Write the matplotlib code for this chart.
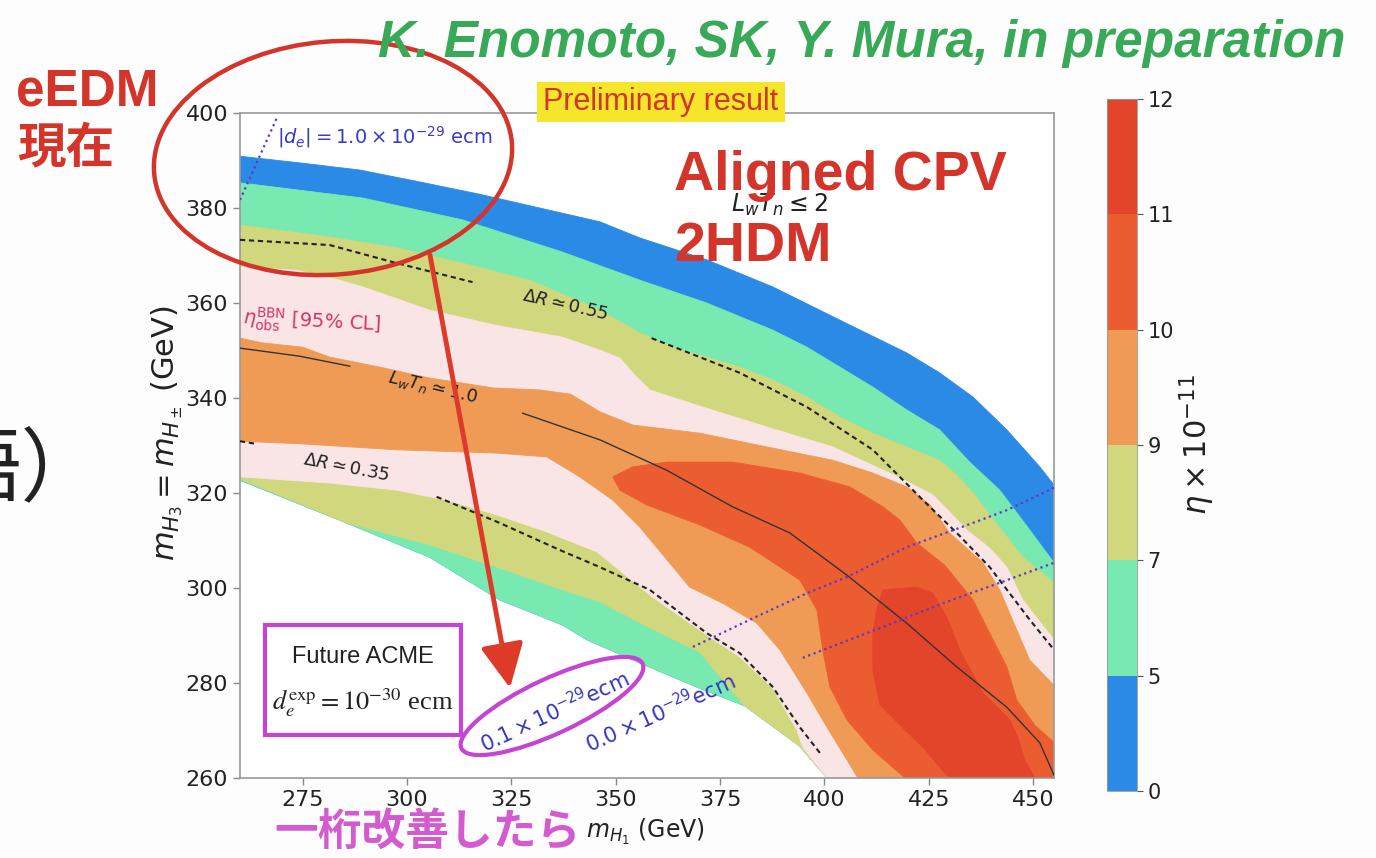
import matplotlib
matplotlib.use('Agg')
import matplotlib.pyplot as plt
from matplotlib import font_manager
from matplotlib.colors import ListedColormap, BoundaryNorm
from matplotlib.cm import ScalarMappable
from matplotlib.patches import Ellipse, Rectangle, FancyArrowPatch

# eta x 10^-11 colour levels
levels = [0, 5, 7, 9, 10, 11, 12]
level_colors = ['#2b8ae6', '#79e9b2', '#d0d77c', '#ef9b55', '#eb5d30', '#e3452a']
bbn_color = '#f9e4e6'

xticks = [275, 300, 325, 350, 375, 400, 425, 450]
yticks = [260, 280, 300, 320, 340, 360, 380, 400]

# contour boundaries (m_H1, m_H3 in GeV)
eta0_top_x = [260, 274.3, 288.7, 303, 317.4, 331.8, 346.2, 355.8, 371.8, 387.6, 403.7, 419.7, 427.6, 435.6, 443.7, 451.6, 455]
eta0_top_y = [390.9, 389.5, 388, 385.5, 382.9, 380, 377.1, 373.7, 369.1, 363.4, 356.4, 349.5, 345.3, 340.2, 333.3, 325.5, 321.7]

floor_x = [260, 285.5, 305.4, 322.2, 337.3, 343.1, 355.8, 370.1, 380.9, 394.1, 400.6]
floor_y = [322.7, 313.7, 306.5, 297.5, 292.2, 289.1, 284.2, 278.9, 275.2, 266.7, 260]

eta5_top_x = [260, 289.4, 313.3, 337.3, 355.8, 371.8, 387.6, 395.8, 403.7, 411.6, 419.7, 427.6, 434.8, 442, 449.2, 455]
eta5_top_y = [385.3, 382.1, 377.5, 370.7, 364.8, 360, 354.3, 350.7, 346.5, 342.3, 337.5, 333.3, 326.5, 320.6, 312.2, 305.3]

eta7_top_x = [260, 281.5, 297.5, 313.3, 329.4, 346.2, 355.8, 363.7, 371.8, 379.7, 387.6, 395.8, 403.7, 411.6, 419.7, 427.6, 431.7, 436, 439.6, 447.5, 455]
eta7_top_y = [376.4, 373.9, 371.6, 368.4, 364.8, 358.5, 353.7, 350.7, 348.6, 346.5, 343.8, 340.2, 336, 332.6, 329.7, 326.9, 323.8, 319.6, 315.4, 306.5, 301.1]
eta7_bot_x = [260, 285.5, 305.4, 321.5, 337.3, 346.2, 358.2, 370.1, 380.9, 394.1, 400.6]
eta7_bot_y = [323, 313.7, 309.1, 304.4, 299.6, 297.1, 291.6, 286.5, 275.2, 266.7, 260]

bbn_top_x = [260, 273.6, 283.9, 289.4, 305.4, 320.8, 337.3, 346.2, 351, 354.6, 358.2, 370.1, 386.2, 402, 418.1, 426, 430, 434.1, 439.6, 443.7, 447.5, 455]
bbn_top_y = [367.6, 366.9, 364.8, 363.4, 358.5, 355.4, 352.8, 350.1, 348.4, 344.8, 341.7, 338.3, 333.9, 329.7, 323.2, 319.6, 316, 312.2, 308.4, 304.4, 297.5, 289.1]
bbn_bot_x = [260, 281.5, 297.5, 309.5, 321.5, 333.5, 345.5, 358.2, 371.8, 379.7, 387.6, 393.4, 394.8, 400.6]
bbn_bot_y = [323.4, 322.1, 320.6, 318.5, 315.4, 311.8, 307.6, 298.5, 290.1, 285.5, 278.9, 270.1, 266.5, 260]

eta9_top_x = [260, 265.4, 275, 281.5, 293.5, 305.4, 320.8, 331.8, 339.2, 346.2, 354.1, 370.1, 386.2, 402, 411.6, 419.7, 425.3, 430, 438, 442, 445.6, 449.2, 455]
eta9_top_y = [352.6, 351.6, 350.7, 348.6, 346.5, 344.2, 342.1, 341.7, 340.8, 337.1, 334.3, 332.6, 329.7, 326.9, 324.2, 321.3, 317.5, 311.6, 305.3, 299.6, 292.2, 284.8, 279.5]
eta9_bot_x = [260, 273.6, 297.5, 321.5, 333.5, 341.4, 349.3, 355.8, 367.7, 375.6, 383.8, 389.3, 395.8, 400.6, 405.4, 408]
eta9_bot_y = [330.9, 330.4, 329.1, 328.4, 327.6, 323.4, 318.5, 312.8, 300.2, 296.8, 292.6, 287, 277.9, 270.7, 263.8, 260]

eta10_x = [349.3, 354.1, 362.2, 378, 394.1, 406.1, 414, 418.1, 422.1, 428.8, 435.6, 439.6, 443.7, 446.1, 450.5, 455, 455,
           419.3, 411.6, 405.4, 401.3, 399.6, 398.2, 394.1, 382.1, 370.1, 357.4, 351]
eta10_y = [323.4, 325.5, 326.5, 326.5, 324.2, 321.3, 317.1, 314.3, 309.5, 304.8, 297.5, 290.5, 283.4, 276.4, 271, 267.5, 260,
           260, 265.9, 272.2, 279.2, 287, 295.4, 301.7, 308.6, 313.3, 317.5, 320.6]

eta11_x = [414, 422.1, 426, 429.3, 432.4, 438, 444.4, 446.1, 448, 450.4, 430, 427.6, 423.6, 419.3, 413.3, 411.6, 411.6, 412.5]
eta11_y = [299.6, 300.2, 298.9, 293.9, 287, 277.9, 272.2, 269.1, 263.8, 260, 260, 262.3, 266.5, 270.1, 275.4, 282.7, 290.5, 295.4]

# Delta R, L_w T_n and d_e contour lines
dr055_a_x = [260, 281.5, 297.5, 315.7]
dr055_a_y = [373.3, 372.2, 368.4, 364.4]
dr055_b_x = [358.6, 379.7, 395.8, 411.6, 423.6, 431.7, 439.6, 449.2, 455]
dr055_b_y = [352.6, 345.3, 338.1, 329.1, 318.5, 311.6, 304.4, 293.3, 287]
dr035_a_x = [260, 264.2]
dr035_a_y = [330.9, 330.3]
dr035_b_x = [307.1, 322.2, 336.6, 346.2, 358.2, 371.8, 379.7, 387.6, 394.1, 398.9]
dr035_b_y = [319.2, 313.7, 308, 304.4, 299.6, 290.5, 286.3, 279.2, 270.7, 265.3]
lwtn_a_x = [260, 274.3, 286.3]
lwtn_a_y = [350.5, 348.8, 346.7]
lwtn_b_x = [327.7, 346.2, 362.2, 378, 391.7, 405.4, 419.7, 431.7, 443.7, 451.6, 455]
lwtn_b_y = [336.8, 331.2, 324.8, 317.1, 311.6, 302.7, 292.6, 283.4, 274.9, 267.4, 260.6]
de10_x = [260, 268.8]
de10_y = [381.7, 398.9]
de01_x = [368.5, 382.1, 395.8, 405.4, 419.7, 435.6, 443.7, 455]
de01_y = [287.6, 293.3, 298.9, 302.3, 308.6, 313.7, 316.4, 321.1]
de00_x = [394.8, 414, 428.4, 442, 455]
de00_y = [285.3, 291.8, 296.8, 301.1, 305.3]

xmin, xmax, ymin, ymax = 260, 455, 260, 400

names = {f.name for f in font_manager.fontManager.ttflist}
narrow = 'Liberation Sans Narrow' in names
cjk = ['Noto Sans CJK JP', 'DejaVu Sans']

fig = plt.figure(figsize=(13.76, 8.58), dpi=100)
fig.patch.set_facecolor('#fdfdfd')
ax = fig.add_axes([240 / 1376, 80 / 858, 814 / 1376, 665 / 858])
ax.set_facecolor('white')


def region(tx, ty, bx, by):
    return list(tx) + [xmax] + list(bx[::-1]), list(ty) + [ymin] + list(by[::-1])


layers = [
    (region(eta0_top_x, eta0_top_y, floor_x, floor_y), level_colors[0]),
    (region(eta5_top_x, eta5_top_y, floor_x, floor_y), level_colors[1]),
    (region(eta7_top_x, eta7_top_y, eta7_bot_x, eta7_bot_y), level_colors[2]),
    (region(bbn_top_x, bbn_top_y, bbn_bot_x, bbn_bot_y), bbn_color),
    (region(eta9_top_x, eta9_top_y, eta9_bot_x, eta9_bot_y), level_colors[3]),
    ((eta10_x, eta10_y), level_colors[4]),
    ((eta11_x, eta11_y), level_colors[5]),
]
for (xs, ys), c in layers:
    ax.fill(xs, ys, color=c, lw=0.6, zorder=1)

dash = dict(color='#222222', lw=1.5, ls=(0, (2.5, 1.8)), zorder=3)
ax.plot(dr055_a_x, dr055_a_y, **dash)
ax.plot(dr055_b_x, dr055_b_y, **dash)
ax.plot(dr035_a_x, dr035_a_y, **dash)
ax.plot(dr035_b_x, dr035_b_y, **dash)
ax.plot(lwtn_a_x, lwtn_a_y, color='#333333', lw=1.0, zorder=3)
ax.plot(lwtn_b_x, lwtn_b_y, color='#333333', lw=1.0, zorder=3)
dot = dict(color='#6238c4', lw=1.6, ls=(0, (1, 1.6)), zorder=3)
ax.plot(de10_x, de10_y, **dot)
ax.plot(de01_x, de01_y, **dot)
ax.plot(de00_x, de00_y, **dot)

ax.set_xlim(xmin, xmax)
ax.set_ylim(ymin, ymax)
ax.set_xticks(xticks)
ax.set_yticks(yticks)
ax.tick_params(labelsize=16, length=5, width=1, color='#888888', labelcolor='#222222')
for s in ax.spines.values():
    s.set_color('#999999')
    s.set_linewidth(1.2)

lab = dict(rotation_mode='anchor', ha='center', va='center', zorder=4)
ax.text(337.8, 359.6, r'$\Delta R \simeq 0.55$', fontsize=13, rotation=-13, color='#222222', **lab)
ax.text(306.2, 342.3, r'$L_wT_n \simeq 1.0$', fontsize=13, rotation=-13, color='#222222', **lab)
ax.text(285.5, 325.3, r'$\Delta R \simeq 0.35$', fontsize=13, rotation=-11, color='#222222', **lab)
ax.text(277.2, 356.0, r'$\eta_{\rm obs}^{\rm BBN}$ [95% CL]', fontsize=14, rotation=-3, color='#d8336a', **lab)
ax.text(294.7, 395.0, r'$|d_e| = 1.0 \times 10^{-29}$ ecm', fontsize=14, color='#3a3ac8', **lab)
ax.text(389.3, 380.6, r'$L_wT_n \leq 2$', fontsize=17, color='#222222', **lab)
ax.text(335.4, 273.9, r'$0.1\times10^{-29}$ecm', fontsize=15, rotation=25, color='#3535c0', **lab)
ax.text(360.6, 273.7, r'$0.0\times10^{-29}$ecm', fontsize=15, rotation=24, color='#3535c0', **lab)

# colour bar
cmap = ListedColormap(level_colors)
norm = BoundaryNorm(levels, cmap.N)
cax = fig.add_axes([1107 / 1376, 67 / 858, 30 / 1376, 692 / 858])
cb = fig.colorbar(ScalarMappable(norm=norm, cmap=cmap), cax=cax, ticks=levels, spacing='uniform')
cb.ax.tick_params(labelsize=15, length=4, color='#555555', labelcolor='#222222')
cb.outline.set_linewidth(0.6)
cb.outline.set_edgecolor('#999999')

inch = fig.dpi_scale_trans
red = '#d3352a'
magenta = '#c444d4'

fig.text(11.97, 4.13, r'$\eta \times 10^{-11}$', fontsize=22, rotation=90, ha='center', va='center',
         color='#222222', transform=inch)
fig.text(6.45, 0.26, r'$m_{H_1}$ (GeV)', fontsize=17, ha='center', va='center', color='#222222', transform=inch)
fig.text(1.67, 4.25, r'$m_{H_3} = m_{H_\pm}$ (GeV)', fontsize=22, rotation=90, ha='center', va='center',
         color='#222222', transform=inch)

fig.text(8.62, 8.14, 'K. Enomoto, SK, Y. Mura, in preparation', fontsize=37, fontweight='bold', style='italic',
         family='Liberation Sans', color='#38a956', ha='center', va='center', transform=inch)
fig.text(0.16, 7.52, 'eEDM', fontsize=37, fontweight='bold', family='Liberation Sans', color=red,
         ha='left', va='baseline', transform=inch)
fig.text(0.17, 7.10, '現在', fontsize=35, fontweight='bold', family=cjk, color=red,
         ha='left', va='center', transform=inch)

fig.add_artist(Rectangle((5.37, 7.36), 2.48, 0.40, fc='#f5e52b', ec='none', transform=inch))
fig.text(6.61, 7.56, 'Preliminary result', fontsize=27 if narrow else 22,
         family='Liberation Sans Narrow' if narrow else 'Liberation Sans', color=red,
         ha='center', va='center', transform=inch)

fig.text(6.74, 6.68, 'Aligned CPV', fontsize=40, fontweight='bold', family='Liberation Sans', color=red,
         ha='left', va='baseline', transform=inch)
fig.text(6.74, 5.97, '2HDM', fontsize=40, fontweight='bold', family='Liberation Sans', color=red,
         ha='left', va='baseline', transform=inch)

fig.text(2.74, 0.26, '一桁改善したら', fontsize=31.5, fontweight='bold', family=cjk, color='#d45ad0',
         ha='left', va='center', transform=inch)
fig.text(1.02, 3.86, '語）', fontsize=58, family=cjk, color='#222222', ha='right', va='center', transform=inch)

# annotations drawn over the figure
fig.add_artist(Ellipse((3.33, 7.00), 3.59, 2.33, angle=5, fill=False, ec=red, lw=3.2, transform=inch))
fig.add_artist(FancyArrowPatch((4.30, 6.03), (5.10, 1.70), arrowstyle='-|>,head_length=0.45,head_width=0.22',
                               mutation_scale=60, lw=3.5, color='#dd3a2a', shrinkA=0, shrinkB=0, transform=inch))
fig.add_artist(Rectangle((2.65, 1.23), 1.96, 1.10, fc='white', ec=magenta, lw=3, transform=inch))
fig.text(3.63, 2.01, 'Future ACME', fontsize=17, family='Liberation Sans', color='#222222',
         ha='center', va='center', transform=inch)
fig.text(3.63, 1.55, r'$d_e^{\rm exp} = 10^{-30}$ ecm', fontsize=19, family='Liberation Serif',
         math_fontfamily='stix', color='#222222', ha='center', va='center', transform=inch)
fig.add_artist(Ellipse((5.52, 1.52), 2.0, 0.55, angle=25, fill=False, ec=magenta, lw=3, transform=inch))

fig.savefig('out.png', dpi=100)
